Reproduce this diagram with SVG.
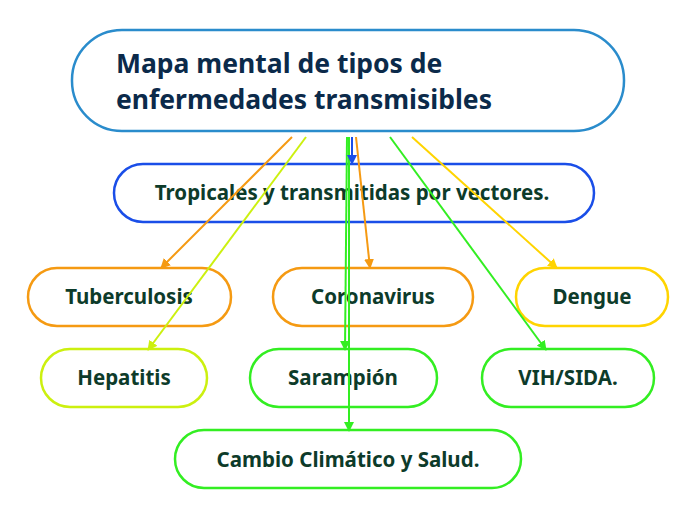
<svg xmlns="http://www.w3.org/2000/svg" width="696" height="520" viewBox="0 0 696 520">
<style>
.n{fill:#fff;stroke-width:2.5}
.t{font-family:"Noto Sans","Open Sans",sans-serif;font-weight:bold;fill:#0d3b2a;font-size:20.5px;text-anchor:middle}
.h{font-family:"Noto Sans","Open Sans",sans-serif;font-weight:bold;fill:#0b2a4a;font-size:26.5px}
.c{fill:none;stroke-width:2}
</style>
<defs>
<marker id="a" viewBox="0 0 10 10" refX="9" refY="5" markerWidth="5" markerHeight="5" orient="auto"><path d="M0,0L10,5L0,10z" fill="context-stroke"/></marker>
</defs>
<rect width="696" height="520" fill="#fff"/>
<g id="root"><rect class="n" x="72" y="30" width="552" height="101" rx="50" stroke="#2a8ccc"/>
<text class="h" x="116" y="73">Mapa mental de tipos de</text>
<text class="h" x="116" y="109">enfermedades transmisibles</text></g>
<g id="tropicales"><rect class="n" x="114" y="164" width="480" height="58" rx="29" stroke="#1a4ee8"/><text class="t" x="352" y="200">Tropicales y transmitidas por vectores.</text></g>
<g id="tuberculosis"><rect class="n" x="28" y="268" width="203" height="58" rx="29" stroke="#f59a12"/><text class="t" x="129" y="304">Tuberculosis</text></g>
<g id="coronavirus"><rect class="n" x="273" y="268" width="200" height="58" rx="29" stroke="#f59a12"/><text class="t" x="373" y="304">Coronavirus</text></g>
<g id="dengue"><rect class="n" x="516" y="268" width="152" height="58" rx="29" stroke="#ffd400"/><text class="t" x="592" y="304">Dengue</text></g>
<g id="hepatitis"><rect class="n" x="41" y="349" width="166" height="58" rx="29" stroke="#ccf00f"/><text class="t" x="124" y="385">Hepatitis</text></g>
<g id="sarampion"><rect class="n" x="250" y="349" width="187" height="58" rx="29" stroke="#33ee22"/><text class="t" x="343" y="385">Sarampión</text></g>
<g id="vih"><rect class="n" x="482" y="349" width="172" height="58" rx="29" stroke="#33ee22"/><text class="t" x="568" y="385">VIH/SIDA.</text></g>
<g id="cambio"><rect class="n" x="175" y="430" width="346" height="58" rx="29" stroke="#33ee22"/><text class="t" x="348" y="467">Cambio Climático y Salud.</text></g>
<g id="connectors">
<line class="c" x1="292" y1="137" x2="161" y2="268" stroke="#f59a12" marker-end="url(#a)"/>
<line class="c" x1="306" y1="137" x2="148" y2="350" stroke="#ccf00f" marker-end="url(#a)"/>
<line class="c" x1="347" y1="137" x2="345" y2="350" stroke="#33ee22" marker-end="url(#a)"/>
<line class="c" x1="349" y1="137" x2="349" y2="431" stroke="#33ee22" marker-end="url(#a)"/>
<line class="c" x1="352" y1="137" x2="352" y2="164" stroke="#1a4ee8" marker-end="url(#a)"/>
<line class="c" x1="356" y1="137" x2="370" y2="268" stroke="#f59a12" marker-end="url(#a)"/>
<line class="c" x1="390" y1="137" x2="546" y2="350" stroke="#33ee22" marker-end="url(#a)"/>
<line class="c" x1="412" y1="137" x2="557" y2="268" stroke="#ffd400" marker-end="url(#a)"/>
</g>
</svg>
